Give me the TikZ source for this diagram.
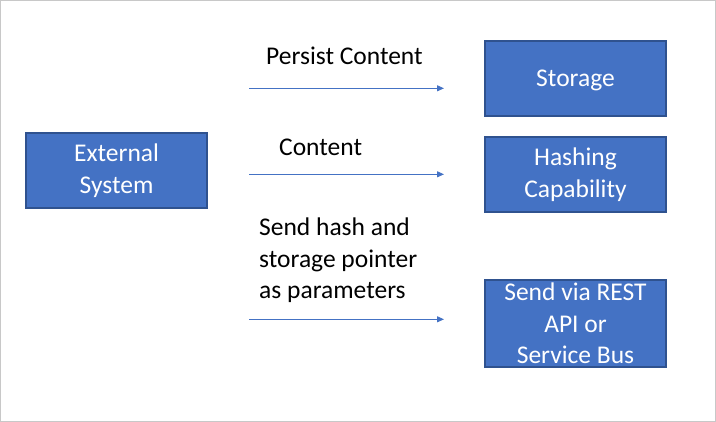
\documentclass[tikz,border=0pt]{standalone}
\usepackage{fontspec}
\setmainfont{Carlito}
\usetikzlibrary{arrows.meta}
\definecolor{boxfill}{HTML}{4472C4}
\definecolor{boxline}{HTML}{2F528F}
\definecolor{framegray}{HTML}{C8C8C8}
\newcommand{\ctext}[1]{\begin{tabular}[t]{@{}c@{}}#1\end{tabular}}
\newcommand{\ltext}[1]{\begin{tabular}[t]{@{}l@{}}#1\end{tabular}}
\tikzset{
  bluebox/.style={draw=boxline, line width=1.2pt, fill=boxfill, inner sep=0pt},
  boxtext/.style={text=white, font=\fontsize{25.5}{31.5}\selectfont, inner sep=0pt, anchor=base},
  lbl/.style={font=\fontsize{25.5}{31.5}\selectfont, text=black, inner sep=0pt, anchor=base west},
  flow/.style={draw=boxfill, line width=0.9pt, -{Triangle[length=7pt,width=6pt]}}
}
\begin{document}
\begin{tikzpicture}[x=1pt,y=-1pt]
\useasboundingbox (0,0) rectangle (716,422);
\draw[framegray, line width=1.2pt] (0.6,0.6) rectangle (715.4,421.4);
% boxes
\node[bluebox, minimum width=181pt, minimum height=75pt] (ext) at (116.5,170.5) {};
\node[bluebox, minimum width=181pt, minimum height=75pt] (sto) at (575.5,78.5) {};
\node[bluebox, minimum width=181pt, minimum height=75pt] (hash) at (575.5,174.5) {};
\node[bluebox, minimum width=181pt, minimum height=87pt] (rest) at (575.5,323.5) {};
% box texts
\node[boxtext] (ext-t) at (116.5,161.7) {\ctext{External\\System}};
\node[boxtext] (sto-t) at (575.5,86.7) {\ctext{Storage}};
\node[boxtext] (hash-t) at (575.5,165.7) {\ctext{Hashing\\Capability}};
\node[boxtext] (rest-t) at (575.5,300.7) {\ctext{Send via REST\\API or\\Service Bus}};
% arrow endpoints
\coordinate (a1s) at (249,88.3);
\coordinate (a1e) at (444,88.3);
\coordinate (a2s) at (249,174.3);
\coordinate (a2e) at (444,174.3);
\coordinate (a3s) at (249,319.3);
\coordinate (a3e) at (444,319.3);
\draw[flow] (a1s) -- (a1e);
\draw[flow] (a2s) -- (a2e);
\draw[flow] (a3s) -- (a3e);
% labels
\node[lbl] (l1) at (266,64.3) {\ltext{Persist Content}};
\node[lbl] (l2) at (279,156) {\ltext{Content}};
\node[lbl] (l3) at (259,236) {\ltext{Send hash and\\storage pointer\\as parameters}};
\end{tikzpicture}
\end{document}
